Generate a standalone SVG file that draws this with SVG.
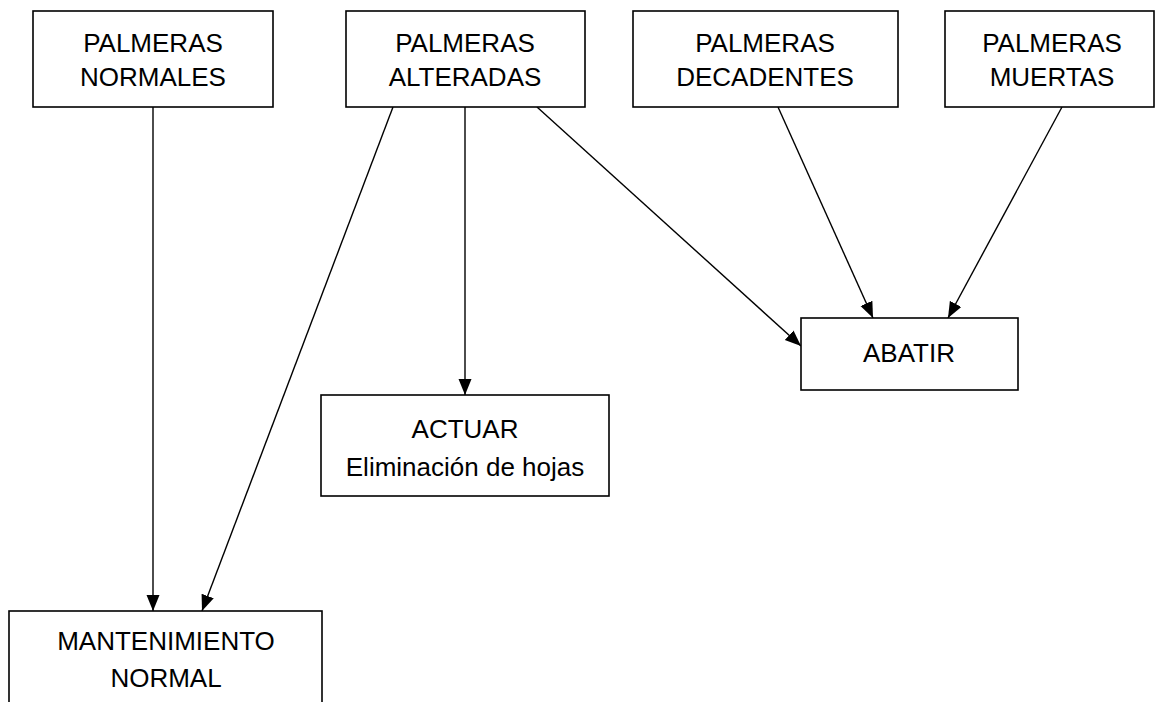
<svg xmlns="http://www.w3.org/2000/svg" width="1158" height="702" viewBox="0 0 1158 702">
<style>
.box{fill:#fff;stroke:#000;stroke-width:1.6}
.t{font-family:"Liberation Sans",Arial,sans-serif;font-size:26px;fill:#000;text-anchor:middle}
.c{stroke:#000;stroke-width:1.4;fill:none;marker-end:url(#ah)}
</style>
<defs>
<marker id="ah" markerUnits="userSpaceOnUse" markerWidth="18" markerHeight="14" refX="16" refY="6.5" orient="auto">
<path d="M0,0 L16,6.5 L0,13 Z" fill="#000"/>
</marker>
</defs>
<rect width="1158" height="702" fill="#fff"/>
<g id="connectors">
<line class="c" x1="153" y1="107" x2="153" y2="611"/>
<line class="c" x1="393" y1="107" x2="202" y2="611"/>
<line class="c" x1="465" y1="107" x2="465" y2="395"/>
<line class="c" x1="537" y1="107" x2="801" y2="346"/>
<line class="c" x1="778" y1="107" x2="873" y2="318"/>
<line class="c" x1="1062" y1="107" x2="948" y2="318"/>
</g>
<g id="n-normales">
<rect class="box" x="33" y="11" width="240" height="96"/>
<text class="t" x="153" y="52">PALMERAS</text>
<text class="t" x="153" y="86">NORMALES</text>
</g>
<g id="n-alteradas">
<rect class="box" x="346" y="11" width="239" height="96"/>
<text class="t" x="465" y="52">PALMERAS</text>
<text class="t" x="465" y="86">ALTERADAS</text>
</g>
<g id="n-decadentes">
<rect class="box" x="633" y="11" width="265" height="96"/>
<text class="t" x="765" y="52">PALMERAS</text>
<text class="t" x="765" y="86">DECADENTES</text>
</g>
<g id="n-muertas">
<rect class="box" x="945" y="11" width="209" height="96"/>
<text class="t" x="1052" y="52">PALMERAS</text>
<text class="t" x="1052" y="86">MUERTAS</text>
</g>
<g id="n-abatir">
<rect class="box" x="801" y="318" width="217" height="72"/>
<text class="t" x="909" y="362">ABATIR</text>
</g>
<g id="n-actuar">
<rect class="box" x="321" y="395" width="288" height="101"/>
<text class="t" x="465" y="438">ACTUAR</text>
<text class="t" x="465" y="476">Eliminación de hojas</text>
</g>
<g id="n-mantenimiento">
<rect class="box" x="9" y="611" width="313" height="110"/>
<text class="t" x="166" y="650">MANTENIMIENTO</text>
<text class="t" x="166" y="687">NORMAL</text>
</g>
</svg>
